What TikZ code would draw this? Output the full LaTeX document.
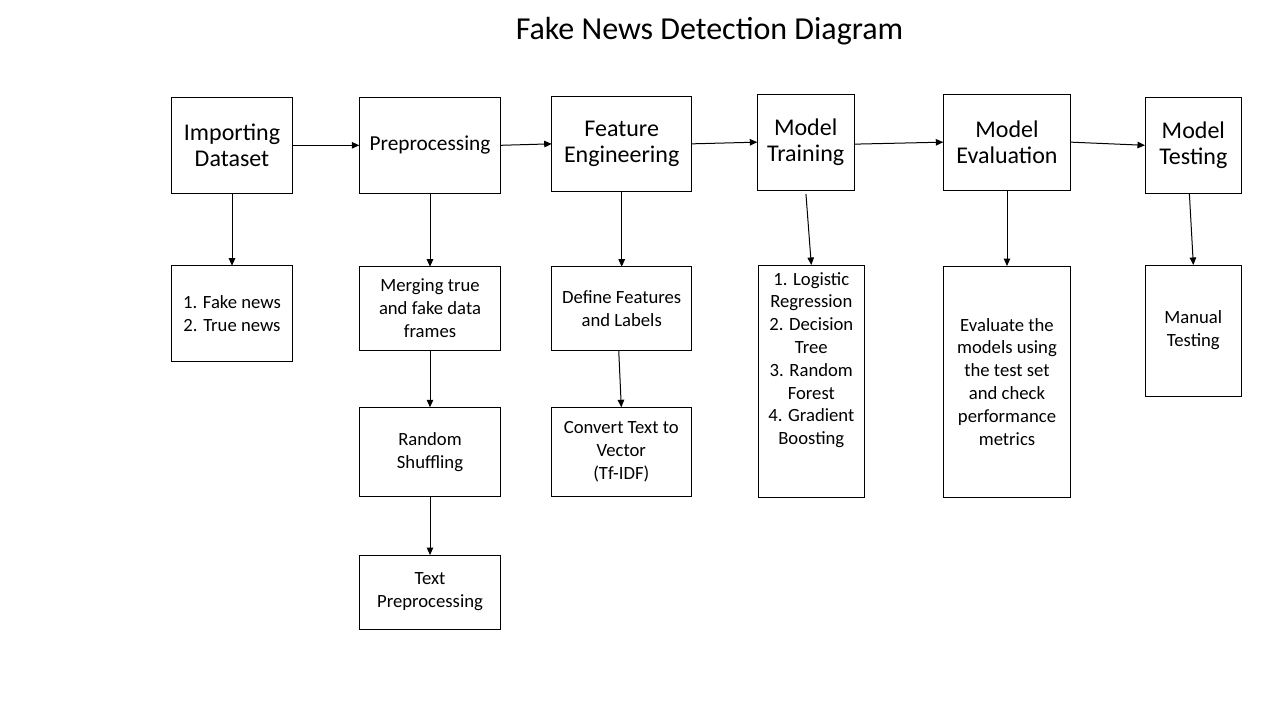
\documentclass[tikz,border=0pt]{standalone}
\usepackage{fontspec}
\setmainfont{Carlito}
\usetikzlibrary{arrows.meta}
\begin{document}
\begin{tikzpicture}[x=1pt,y=-1pt,
  box/.style={draw=black, line width=1pt, fill=white, anchor=north west, inner sep=2pt, outer sep=0pt, align=center, text=black},
  big/.style={font=\fontsize{24}{26.4}\selectfont},
  mid/.style={font=\fontsize{21.33}{24}\selectfont},
  small/.style={font=\fontsize{18.67}{22.8}\selectfont},
  arr/.style={draw=black, line width=1pt, -{Triangle[length=7.5pt,width=6.5pt]}}
]
\useasboundingbox[fill=white] (0,0) rectangle (1280,720);

\node[anchor=base, font=\fontsize{32}{38}\selectfont] (title) at (709.5,39.5) {Fake News Detection Diagram};

% top row
\node[box,big,minimum width=120.6pt,minimum height=96pt] (imp) at (171.7,97.3) {Importing\\Dataset};
\node[box,mid,minimum width=141.4pt,minimum height=96pt] (pre) at (359.3,97.3) {Preprocessing};
\node[box,big,minimum width=140pt,minimum height=94.3pt] (fe) at (551.7,96.7) {Feature\\Engineering};
\node[box,big,minimum width=96.7pt,minimum height=95.7pt] (mt) at (757.3,94.3) {Model\\Training};
\node[box,big,minimum width=127.4pt,minimum height=95.7pt] (me) at (943.3,94.3) {Model\\Evaluation};
\node[box,big,minimum width=96.7pt,minimum height=96pt] (test) at (1145,97.3) {Model\\Testing};

% second row
\node[box,small,minimum width=120.6pt,minimum height=96pt] (fake) at (171.7,265.7) {1. Fake news\\2. True news};
\node[box,small,minimum width=141.4pt,minimum height=83.3pt] (merge) at (359.3,266.7) {Merging true\\and fake data\\frames};
\node[box,small,minimum width=140pt,minimum height=83.3pt] (define) at (551.7,266.7) {Define Features\\and Labels};
\node[box,small,minimum width=106pt,minimum height=232.3pt] (log) at (758.3,265) {1. Logistic\\Regression\\2. Decision\\Tree\\3. Random\\Forest\\4. Gradient\\Boosting\\ \mbox{}\\ \mbox{}};
\node[box,small,minimum width=127.4pt,minimum height=231.3pt] (eval) at (943.3,266) {Evaluate the\\models using\\the test set\\and check\\performance\\metrics};
\node[box,small,minimum width=96.7pt,minimum height=131pt] (manual) at (1145,265) {Manual\\Testing};

% third and fourth rows
\node[box,small,minimum width=141.4pt,minimum height=89.4pt] (shuffle) at (359.3,407.3) {Random\\Shuffling};
\node[box,small,minimum width=140pt,minimum height=89.4pt] (convert) at (551.3,407.3) {Convert Text to\\Vector\\(Tf-IDF)};
\node[box,small,minimum width=141.4pt,minimum height=74pt] (textpre) at (359.3,555) {Text\\Preprocessing};

% horizontal connectors
\draw[arr] (imp.east) -- (pre.west);
\draw[arr] (pre.east) -- (fe.west);
\draw[arr] (fe.east) -- (mt.west);
\draw[arr] ([yshift=-2pt]mt.east) -- (me.west);
\draw[arr] (me.east) -- (test.west);

% vertical connectors
\draw[arr] (imp.south) -- (fake.north);
\draw[arr] (pre.south) -- (merge.north);
\draw[arr] (merge.south) -- (shuffle.north);
\draw[arr] (shuffle.south) -- (textpre.north);
\draw[arr] (fe.south) -- (define.north);
\draw[arr] ([xshift=-3pt]define.south) -- (convert.north);
\draw[arr, shorten <=4pt] (mt.south) -- (log.north);
\draw[arr] (me.south) -- (eval.north);
\draw[arr] ([xshift=-4pt]test.south) -- (manual.north);
\end{tikzpicture}
\end{document}
